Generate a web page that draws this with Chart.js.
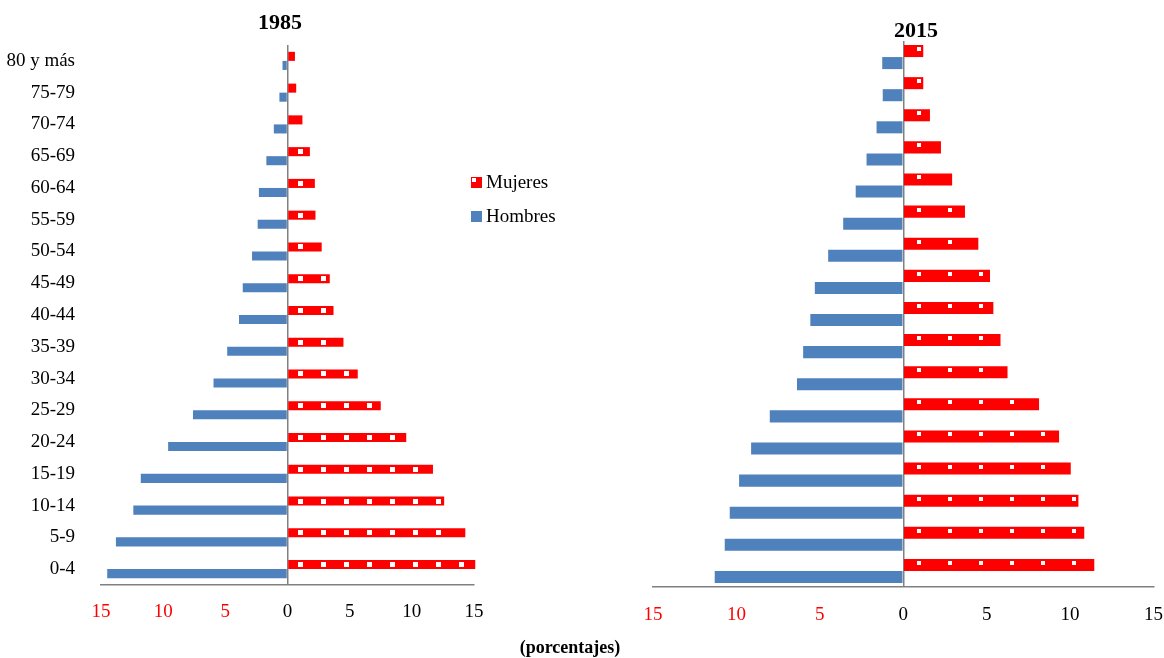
<!DOCTYPE html>
<html>
<head>
<meta charset="utf-8">
<script src="https://cdn.jsdelivr.net/npm/chart.js@4/dist/chart.umd.min.js"></script>
<style>
    body { margin: 0; background: #fff; }
    #page { position: relative; width: 1164px; height: 658px; overflow: hidden; font-family: "Liberation Serif", serif; color: #000; }
    .box { position: absolute; top: 0; height: 658px; }
    .label { position: absolute; transform: translate(-50%, -50%); white-space: nowrap; }
    .title { font-size: 22px; font-weight: bold; }
    .legend-row { position: absolute; left: 471px; font-size: 19px; display: flex; align-items: center; }
    .swatch { width: 11px; height: 11px; margin-right: 4px; position: relative; }
    .swatch.women { background: #FF0000; }
    .swatch.women::after { content: ""; position: absolute; left: 1px; top: 1px; width: 4px; height: 4px; background: #fff; }
    .swatch.men { background: #4F81BD; }
</style>
</head>
<body>
<div id="page">
    <div class="box" style="left:0; width:500px;"><canvas id="chart1985"></canvas></div>
    <!-- a bit wider than the page: chart.js keeps room for the last tick label -->
    <div class="box" style="left:600px; width:580px;"><canvas id="chart2015"></canvas></div>

    <div class="label title" style="left:280px; top:22px;">1985</div>
    <div class="label title" style="left:916px; top:30px;">2015</div>
    <div class="label" style="left:570px; top:647px; font-size:18px; font-weight:bold;">(porcentajes)</div>

    <div class="legend-row" style="top:171px;"><span class="swatch women"></span>Mujeres</div>
    <div class="legend-row" style="top:205px;"><span class="swatch men"></span>Hombres</div>
</div>

<script>
const AGE_GROUPS = ['80 y más', '75-79', '70-74', '65-69', '60-64', '55-59', '50-54', '45-49', '40-44',
    '35-39', '30-34', '25-29', '20-24', '15-19', '10-14', '5-9', '0-4'];

const WOMEN_1985 = [0.6, 0.7, 1.2, 1.8, 2.2, 2.25, 2.75, 3.4, 3.7, 4.5, 5.65, 7.5, 9.55, 11.7, 12.6, 14.3, 15.1];
const MEN_1985 = [0.4, 0.65, 1.1, 1.7, 2.3, 2.4, 2.85, 3.6, 3.9, 4.85, 5.95, 7.6, 9.6, 11.8, 12.4, 13.8, 14.5];

const WOMEN_2015 = [1.2, 1.2, 1.6, 2.26, 2.93, 3.7, 4.5, 5.2, 5.4, 5.83, 6.25, 8.14, 9.34, 10.04, 10.5, 10.85, 11.45];
const MEN_2015 = [1.26, 1.23, 1.6, 2.2, 2.85, 3.6, 4.5, 5.3, 5.57, 6.0, 6.37, 8.0, 9.12, 9.84, 10.4, 10.7, 11.3];

const X_TICKS = [-15, -10, -5, 0, 5, 10, 15];

const RED = '#FF0000';
const BLUE = '#4F81BD';
const AXIS_GRAY = '#808080';
const FONT = { family: '"Liberation Serif", serif', size: 19 };

// white squares on the women's bars (the excel pattern fill)
const womenDots = {
    id: 'womenDots',
    afterDatasetsDraw(chart, args, opts) {
        const ctx = chart.ctx;
        ctx.save();
        ctx.fillStyle = '#fff';
        chart.getDatasetMeta(0).data.forEach((bar) => {
            const { x, y, base, height } = bar.getProps(['x', 'y', 'base', 'height'], true);
            const top = y - height / 2;
            for (let px = base + opts.offset; px + opts.size / 2 < x - 2; px += opts.step) {
                ctx.fillRect(Math.round(px - opts.size / 2), Math.round(top + opts.dy), opts.size, opts.size);
            }
        });
        ctx.restore();
    }
};

function renderPyramid(canvasId, women, men, cfg) {
    return new Chart(document.getElementById(canvasId), {
        type: 'bar',
        data: {
            labels: AGE_GROUPS,
            datasets: [{
                label: 'Mujeres',
                data: women,
                backgroundColor: RED,
                clip: false
            }, {
                label: 'Hombres',
                data: men.map((v) => -v),
                backgroundColor: BLUE,
                clip: false
            }]
        },
        options: {
            indexAxis: 'y',
            responsive: true,
            maintainAspectRatio: false,
            animation: false,
            layout: { padding: { top: cfg.top, right: cfg.right, bottom: 0, left: 0 } },
            datasets: {
                bar: { barPercentage: 1, categoryPercentage: cfg.catPct }
            },
            scales: {
                x: {
                    min: -15,
                    max: 15,
                    afterBuildTicks: (scale) => { scale.ticks = X_TICKS.map((v) => ({ value: v })); },
                    afterFit: (scale) => { scale.height = cfg.xHeight; },
                    border: { display: true, color: AXIS_GRAY, width: 1.5 },
                    grid: {
                        drawTicks: false,
                        color: (ctx) => ctx.tick && ctx.tick.value === 0 ? AXIS_GRAY : 'rgba(0,0,0,0)',
                        lineWidth: 1.5
                    },
                    ticks: {
                        padding: cfg.tickPad,
                        font: FONT,
                        color: (ctx) => ctx.tick.value < 0 ? RED : '#000',
                        callback: (v) => Math.abs(v)
                    }
                },
                y: {
                    afterFit: (scale) => { scale.width = cfg.yWidth; },
                    border: { display: false },
                    grid: { display: false },
                    ticks: { display: cfg.showLabels, padding: 18, font: FONT, color: '#000' }
                }
            },
            plugins: {
                legend: { display: false },
                tooltip: { enabled: false },
                womenDots: cfg.dots
            }
        },
        plugins: [womenDots]
    });
}

renderPyramid('chart1985', WOMEN_1985, MEN_1985, {
    top: 45, right: 26, xHeight: 73, yWidth: 101, catPct: 0.57, showLabels: true, tickPad: 16,
    dots: { offset: 12, step: 23, size: 5, dy: 2 }
});

renderPyramid('chart2015', WOMEN_2015, MEN_2015, {
    top: 41, right: 0, xHeight: 71, yWidth: 53, catPct: 0.75, showLabels: false, tickPad: 17,
    dots: { offset: 15, step: 31, size: 4, dy: 2 }
});
</script>
</body>
</html>
